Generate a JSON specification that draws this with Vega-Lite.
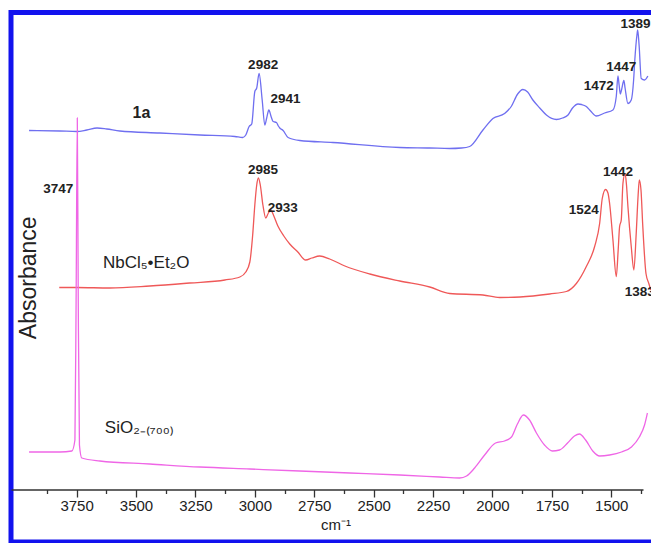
{
  "$schema": "https://vega.github.io/schema/vega-lite/v6.json",
  "width": 649,
  "height": 529.5,
  "autosize": {"type": "none"},
  "padding": {"left": 11, "top": 12.5, "right": -9, "bottom": 1},
  "background": "white",
  "config": {"view": {"stroke": "#1212ee", "strokeWidth": 5}, "font": "Liberation Sans"},
  "datasets": {
    "spectra": [
      {"series": "1a", "wn": 3950, "abs": 0.823}, {"series": "1a", "wn": 3820, "abs": 0.822}, {"series": "1a", "wn": 3749, "abs": 0.821},
      {"series": "1a", "wn": 3707, "abs": 0.824}, {"series": "1a", "wn": 3664, "abs": 0.828}, {"series": "1a", "wn": 3623, "abs": 0.826},
      {"series": "1a", "wn": 3568, "abs": 0.822}, {"series": "1a", "wn": 3400, "abs": 0.818}, {"series": "1a", "wn": 3231, "abs": 0.814},
      {"series": "1a", "wn": 3084, "abs": 0.811}, {"series": "1a", "wn": 3051, "abs": 0.809}, {"series": "1a", "wn": 3038, "abs": 0.814},
      {"series": "1a", "wn": 3024, "abs": 0.831}, {"series": "1a", "wn": 3013, "abs": 0.836}, {"series": "1a", "wn": 3000, "abs": 0.901},
      {"series": "1a", "wn": 2992, "abs": 0.908}, {"series": "1a", "wn": 2982, "abs": 0.937}, {"series": "1a", "wn": 2969, "abs": 0.884},
      {"series": "1a", "wn": 2958, "abs": 0.834}, {"series": "1a", "wn": 2950, "abs": 0.848}, {"series": "1a", "wn": 2941, "abs": 0.864},
      {"series": "1a", "wn": 2931, "abs": 0.85}, {"series": "1a", "wn": 2923, "abs": 0.841}, {"series": "1a", "wn": 2909, "abs": 0.839},
      {"series": "1a", "wn": 2901, "abs": 0.832}, {"series": "1a", "wn": 2895, "abs": 0.828}, {"series": "1a", "wn": 2881, "abs": 0.823},
      {"series": "1a", "wn": 2860, "abs": 0.809}, {"series": "1a", "wn": 2811, "abs": 0.803}, {"series": "1a", "wn": 2672, "abs": 0.799},
      {"series": "1a", "wn": 2390, "abs": 0.789}, {"series": "1a", "wn": 2264, "abs": 0.788}, {"series": "1a", "wn": 2180, "abs": 0.787},
      {"series": "1a", "wn": 2130, "abs": 0.788}, {"series": "1a", "wn": 2096, "abs": 0.791}, {"series": "1a", "wn": 2040, "abs": 0.824},
      {"series": "1a", "wn": 1998, "abs": 0.847}, {"series": "1a", "wn": 1949, "abs": 0.857}, {"series": "1a", "wn": 1921, "abs": 0.871},
      {"series": "1a", "wn": 1894, "abs": 0.896}, {"series": "1a", "wn": 1872, "abs": 0.905}, {"series": "1a", "wn": 1852, "abs": 0.9},
      {"series": "1a", "wn": 1830, "abs": 0.884}, {"series": "1a", "wn": 1801, "abs": 0.868}, {"series": "1a", "wn": 1773, "abs": 0.854},
      {"series": "1a", "wn": 1731, "abs": 0.845}, {"series": "1a", "wn": 1705, "abs": 0.848}, {"series": "1a", "wn": 1682, "abs": 0.854},
      {"series": "1a", "wn": 1663, "abs": 0.868}, {"series": "1a", "wn": 1640, "abs": 0.876}, {"series": "1a", "wn": 1625, "abs": 0.875},
      {"series": "1a", "wn": 1605, "abs": 0.871}, {"series": "1a", "wn": 1587, "abs": 0.862}, {"series": "1a", "wn": 1563, "abs": 0.852},
      {"series": "1a", "wn": 1528, "abs": 0.858}, {"series": "1a", "wn": 1493, "abs": 0.864}, {"series": "1a", "wn": 1479, "abs": 0.891},
      {"series": "1a", "wn": 1472, "abs": 0.932}, {"series": "1a", "wn": 1467, "abs": 0.914}, {"series": "1a", "wn": 1462, "abs": 0.896},
      {"series": "1a", "wn": 1457, "abs": 0.904}, {"series": "1a", "wn": 1447, "abs": 0.923}, {"series": "1a", "wn": 1442, "abs": 0.908},
      {"series": "1a", "wn": 1430, "abs": 0.877}, {"series": "1a", "wn": 1416, "abs": 0.884}, {"series": "1a", "wn": 1406, "abs": 0.924},
      {"series": "1a", "wn": 1401, "abs": 0.964}, {"series": "1a", "wn": 1392, "abs": 1.014}, {"series": "1a", "wn": 1389, "abs": 1.024},
      {"series": "1a", "wn": 1383, "abs": 0.994}, {"series": "1a", "wn": 1374, "abs": 0.927}, {"series": "1a", "wn": 1360, "abs": 0.924},
      {"series": "1a", "wn": 1346, "abs": 0.932},

      {"series": "NbCl5", "wn": 3823, "abs": 0.509}, {"series": "NbCl5", "wn": 3749, "abs": 0.509}, {"series": "NbCl5", "wn": 3610, "abs": 0.508},
      {"series": "NbCl5", "wn": 3442, "abs": 0.512}, {"series": "NbCl5", "wn": 3274, "abs": 0.518}, {"series": "NbCl5", "wn": 3126, "abs": 0.524},
      {"series": "NbCl5", "wn": 3063, "abs": 0.53}, {"series": "NbCl5", "wn": 3038, "abs": 0.54}, {"series": "NbCl5", "wn": 3021, "abs": 0.56},
      {"series": "NbCl5", "wn": 3009, "abs": 0.614}, {"series": "NbCl5", "wn": 3000, "abs": 0.674}, {"series": "NbCl5", "wn": 2992, "abs": 0.714},
      {"series": "NbCl5", "wn": 2985, "abs": 0.728}, {"series": "NbCl5", "wn": 2977, "abs": 0.714}, {"series": "NbCl5", "wn": 2966, "abs": 0.674},
      {"series": "NbCl5", "wn": 2954, "abs": 0.648}, {"series": "NbCl5", "wn": 2943, "abs": 0.658}, {"series": "NbCl5", "wn": 2933, "abs": 0.664},
      {"series": "NbCl5", "wn": 2920, "abs": 0.652}, {"series": "NbCl5", "wn": 2903, "abs": 0.632}, {"series": "NbCl5", "wn": 2878, "abs": 0.612},
      {"series": "NbCl5", "wn": 2853, "abs": 0.596}, {"series": "NbCl5", "wn": 2819, "abs": 0.58}, {"series": "NbCl5", "wn": 2786, "abs": 0.564},
      {"series": "NbCl5", "wn": 2760, "abs": 0.568}, {"series": "NbCl5", "wn": 2727, "abs": 0.572}, {"series": "NbCl5", "wn": 2685, "abs": 0.566},
      {"series": "NbCl5", "wn": 2621, "abs": 0.552}, {"series": "NbCl5", "wn": 2516, "abs": 0.536}, {"series": "NbCl5", "wn": 2390, "abs": 0.522},
      {"series": "NbCl5", "wn": 2264, "abs": 0.51}, {"series": "NbCl5", "wn": 2180, "abs": 0.497}, {"series": "NbCl5", "wn": 2040, "abs": 0.494},
      {"series": "NbCl5", "wn": 1970, "abs": 0.489}, {"series": "NbCl5", "wn": 1884, "abs": 0.49}, {"series": "NbCl5", "wn": 1759, "abs": 0.496},
      {"series": "NbCl5", "wn": 1689, "abs": 0.501}, {"series": "NbCl5", "wn": 1647, "abs": 0.517}, {"series": "NbCl5", "wn": 1605, "abs": 0.551},
      {"series": "NbCl5", "wn": 1570, "abs": 0.591}, {"series": "NbCl5", "wn": 1549, "abs": 0.637}, {"series": "NbCl5", "wn": 1538, "abs": 0.687},
      {"series": "NbCl5", "wn": 1524, "abs": 0.705}, {"series": "NbCl5", "wn": 1514, "abs": 0.698}, {"series": "NbCl5", "wn": 1507, "abs": 0.677},
      {"series": "NbCl5", "wn": 1493, "abs": 0.604}, {"series": "NbCl5", "wn": 1479, "abs": 0.531}, {"series": "NbCl5", "wn": 1471, "abs": 0.584},
      {"series": "NbCl5", "wn": 1465, "abs": 0.631}, {"series": "NbCl5", "wn": 1458, "abs": 0.644}, {"series": "NbCl5", "wn": 1451, "abs": 0.717},
      {"series": "NbCl5", "wn": 1442, "abs": 0.737}, {"series": "NbCl5", "wn": 1436, "abs": 0.714}, {"series": "NbCl5", "wn": 1430, "abs": 0.671},
      {"series": "NbCl5", "wn": 1416, "abs": 0.591}, {"series": "NbCl5", "wn": 1405, "abs": 0.544}, {"series": "NbCl5", "wn": 1395, "abs": 0.618},
      {"series": "NbCl5", "wn": 1387, "abs": 0.694}, {"series": "NbCl5", "wn": 1382, "abs": 0.724}, {"series": "NbCl5", "wn": 1375, "abs": 0.704},
      {"series": "NbCl5", "wn": 1368, "abs": 0.637}, {"series": "NbCl5", "wn": 1354, "abs": 0.537}, {"series": "NbCl5", "wn": 1342, "abs": 0.517},
      {"series": "NbCl5", "wn": 1334, "abs": 0.504},

      {"series": "SiO2", "wn": 3950, "abs": 0.18}, {"series": "SiO2", "wn": 3820, "abs": 0.18}, {"series": "SiO2", "wn": 3770, "abs": 0.182},
      {"series": "SiO2", "wn": 3757, "abs": 0.204}, {"series": "SiO2", "wn": 3752, "abs": 0.484}, {"series": "SiO2", "wn": 3747, "abs": 0.848},
      {"series": "SiO2", "wn": 3743, "abs": 0.484}, {"series": "SiO2", "wn": 3738, "abs": 0.194}, {"series": "SiO2", "wn": 3728, "abs": 0.168},
      {"series": "SiO2", "wn": 3652, "abs": 0.162}, {"series": "SiO2", "wn": 3442, "abs": 0.156}, {"series": "SiO2", "wn": 3231, "abs": 0.15},
      {"series": "SiO2", "wn": 3021, "abs": 0.146}, {"series": "SiO2", "wn": 2811, "abs": 0.142}, {"series": "SiO2", "wn": 2600, "abs": 0.138},
      {"series": "SiO2", "wn": 2390, "abs": 0.134}, {"series": "SiO2", "wn": 2222, "abs": 0.13}, {"series": "SiO2", "wn": 2138, "abs": 0.128},
      {"series": "SiO2", "wn": 2109, "abs": 0.132}, {"series": "SiO2", "wn": 2075, "abs": 0.148}, {"series": "SiO2", "wn": 2033, "abs": 0.174},
      {"series": "SiO2", "wn": 1987, "abs": 0.198}, {"series": "SiO2", "wn": 1949, "abs": 0.202}, {"series": "SiO2", "wn": 1920, "abs": 0.21},
      {"series": "SiO2", "wn": 1895, "abs": 0.236}, {"series": "SiO2", "wn": 1870, "abs": 0.254}, {"series": "SiO2", "wn": 1844, "abs": 0.244},
      {"series": "SiO2", "wn": 1815, "abs": 0.218}, {"series": "SiO2", "wn": 1781, "abs": 0.194}, {"series": "SiO2", "wn": 1748, "abs": 0.182},
      {"series": "SiO2", "wn": 1718, "abs": 0.184}, {"series": "SiO2", "wn": 1684, "abs": 0.198}, {"series": "SiO2", "wn": 1655, "abs": 0.212},
      {"series": "SiO2", "wn": 1634, "abs": 0.216}, {"series": "SiO2", "wn": 1608, "abs": 0.204}, {"series": "SiO2", "wn": 1578, "abs": 0.182},
      {"series": "SiO2", "wn": 1549, "abs": 0.172}, {"series": "SiO2", "wn": 1507, "abs": 0.174}, {"series": "SiO2", "wn": 1457, "abs": 0.18},
      {"series": "SiO2", "wn": 1415, "abs": 0.19}, {"series": "SiO2", "wn": 1382, "abs": 0.21}, {"series": "SiO2", "wn": 1360, "abs": 0.234},
      {"series": "SiO2", "wn": 1348, "abs": 0.258}
    ],
    "labels": [
      {"text": "1a", "kind": "id", "wn": 3477, "abs": 0.858},
      {"text": "2982", "kind": "peak", "wn": 2965, "abs": 0.954},
      {"text": "2941", "kind": "peak", "wn": 2871, "abs": 0.887},
      {"text": "1472", "kind": "peak", "wn": 1553, "abs": 0.912},
      {"text": "1447", "kind": "peak", "wn": 1458, "abs": 0.951},
      {"text": "1389", "kind": "peak", "wn": 1398, "abs": 1.037},
      {"text": "3747", "kind": "peak", "wn": 3827, "abs": 0.706},
      {"text": "2985", "kind": "peak", "wn": 2966, "abs": 0.744},
      {"text": "2933", "kind": "peak", "wn": 2882, "abs": 0.668},
      {"text": "1524", "kind": "peak", "wn": 1616, "abs": 0.664},
      {"text": "1442", "kind": "peak", "wn": 1472, "abs": 0.74},
      {"text": "1383", "kind": "peak", "wn": 1380, "abs": 0.501},
      {"text": "NbCl₅•Et₂O", "kind": "name", "wn": 3639, "abs": 0.558},
      {"text": "SiO₂₋₍₇₀₀₎", "kind": "name", "wn": 3631, "abs": 0.228}
    ]
  },
  "layer": [
    {
      "data": {"name": "spectra"},
      "mark": {"type": "line", "strokeWidth": 1.3, "interpolate": "monotone"},
      "encoding": {
        "x": {
          "field": "wn", "type": "quantitative",
          "scale": {"domain": [1295, 4026], "reverse": true, "nice": false, "zero": false},
          "axis": {
            "orient": "bottom", "offset": -52.5,
            "values": [3750, 3500, 3250, 3000, 2750, 2500, 2250, 2000, 1750, 1500],
            "format": "d", "grid": false,
            "title": "cm⁻¹", "titleFontSize": 15, "titleFontWeight": "normal", "titleColor": "#222", "titlePadding": 4,
            "tickSize": 7.5, "tickWidth": 1.3, "tickColor": "#333",
            "domainColor": "#333", "domainWidth": 1.3, "domainDash": [0, 17, 3000],
            "labelFontSize": 15, "labelColor": "#222", "labelPadding": 1, "labelFlush": false
          }
        },
        "y": {
          "field": "abs", "type": "quantitative",
          "scale": {"domain": [0, 1.059], "nice": false, "zero": false},
          "axis": {
            "title": "Absorbance", "labels": false, "ticks": false, "domain": false, "grid": false,
            "offset": -29, "titlePadding": 0, "titleFontSize": 23, "titleFontWeight": "normal", "titleColor": "#222"
          }
        },
        "color": {
          "field": "series", "type": "nominal",
          "scale": {"domain": ["1a", "NbCl5", "SiO2"], "range": ["#6f6ff0", "#ef5858", "#ef66e6"]},
          "legend": null
        }
      }
    },
    {
      "data": {"name": "labels"},
      "transform": [{"filter": "datum.kind == 'peak'"}],
      "mark": {"type": "text", "fontWeight": "bold", "fontSize": 13.5, "color": "#222", "align": "center", "baseline": "middle"},
      "encoding": {
        "x": {
          "field": "wn", "type": "quantitative",
          "axis": {
            "orient": "bottom", "offset": -52.5,
            "values": [3875, 3625, 3375, 3125, 2875, 2625, 2375, 2125, 1875, 1625, 1375],
            "labels": false, "domain": false, "grid": false, "title": null,
            "tickSize": 4, "tickWidth": 1.3, "tickColor": "#333"
          }
        },
        "y": {"field": "abs", "type": "quantitative", "axis": null},
        "text": {"field": "text"}
      }
    },
    {
      "data": {"name": "labels"},
      "transform": [{"filter": "datum.kind == 'id'"}],
      "mark": {"type": "text", "fontWeight": "bold", "fontSize": 16, "color": "#222", "align": "center", "baseline": "middle"},
      "encoding": {
        "x": {"field": "wn", "type": "quantitative", "axis": null},
        "y": {"field": "abs", "type": "quantitative", "axis": null},
        "text": {"field": "text"}
      }
    },
    {
      "data": {"name": "labels"},
      "transform": [{"filter": "datum.kind == 'name'"}],
      "mark": {"type": "text", "fontSize": 17, "color": "#222", "align": "left", "baseline": "middle"},
      "encoding": {
        "x": {"field": "wn", "type": "quantitative", "axis": null},
        "y": {"field": "abs", "type": "quantitative", "axis": null},
        "text": {"field": "text"}
      }
    }
  ],
  "resolve": {"axis": {"x": "independent", "y": "independent"}}
}
